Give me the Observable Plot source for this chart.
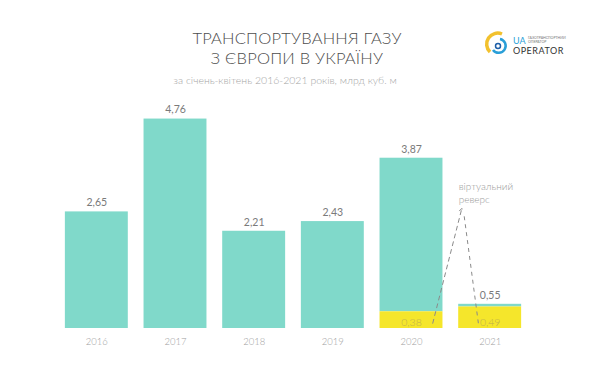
<!DOCTYPE html>
<html>
<head>
<meta charset="utf-8">
<script src="https://cdn.jsdelivr.net/npm/d3@7"></script>
<script src="https://cdn.jsdelivr.net/npm/@observablehq/plot@0.6"></script>
<style>
  html, body { margin: 0; padding: 0; background: #fff; }
  #wrap { position: relative; width: 600px; height: 383px; overflow: hidden; font-family: Lato, "Open Sans", sans-serif; }
  #header { height: 100px; position: relative; }
  .t { position: absolute; left: 0; top: 28px; width: 594px; text-align: center; color: #4d4d4d; font-size: 16.5px; line-height: 20px; font-weight: 300; letter-spacing: 0.2px; }
  .s { position: absolute; left: 0; width: 570px; text-align: center; color: #a5a5a5; font-size: 10.5px; line-height: 12px; font-weight: 300; }
  #logo { position: absolute; left: 484px; top: 30px; width: 110px; height: 30px; }
</style>
</head>
<body>
<div id="wrap">
  <div id="header">
    <div class="t">ТРАНСПОРТУВАННЯ ГАЗУ<br>З ЄВРОПИ В УКРАЇНУ</div>
    <div class="s" style="top:74px">за січень-квітень 2016-2021 років, млрд куб. м</div>
    <svg id="logo" width="110" height="30" viewBox="0 0 110 30">
      <path d="M6 22 A11 11 0 0 1 18 4" fill="none" stroke="#f2c12e" stroke-width="3.5"/>
      <path d="M9 20 A7 7 0 1 0 16 9" fill="none" stroke="#2a9fd8" stroke-width="2.5"/>
      <circle cx="14" cy="16" r="2.5" fill="none" stroke="#1d5fa8" stroke-width="1.5"/>
      <text x="29" y="14" font-size="9" fill="#2a9fd8" font-family="Lato, sans-serif">UA</text>
      <text x="44" y="9" font-size="3.5" fill="#777" font-family="Lato, sans-serif">ГАЗОТРАНСПОРТНИЙ</text>
      <text x="44" y="13" font-size="3.5" fill="#777" font-family="Lato, sans-serif">ОПЕРАТОР</text>
      <text x="29" y="24" font-size="9" fill="#333" font-family="Lato, sans-serif" letter-spacing="0.5">OPERATOR</text>
    </svg>
  </div>
  <div id="chart"></div>
</div>
<script>
const years = [2016, 2017, 2018, 2019, 2020, 2021];
const totals = [2.65, 4.76, 2.21, 2.43, 3.87, 0.55];
const reverse = [0, 0, 0, 0, 0.38, 0.49];
const annotationText = "віртуальний\nреверс";
// annotation anchors in data space (year, value)
const arrowUp = {x1: 2020.27, y1: 0.12, x2: 2020.64, y2: 2.73};
const arrowDown = {x1: 2020.67, y1: 2.55, x2: 2020.85, y2: 0.12};
const labelAnchor = {x: 2020.60, y: 3.36};

const fmt = v => v.toFixed(2).replace(".", ",");
const data = years.map((y, i) => ({year: y, total: totals[i], rev: reverse[i]}));
const revData = data.filter(d => d.rev > 0);
const teal = "#80d9ca";
const yellow = "#f5e62b";
const half = 0.4;

const chart = Plot.plot({
  width: 600,
  height: 283,
  marginLeft: 57,
  marginRight: 71,
  marginTop: 8,
  marginBottom: 55,
  style: {fontFamily: "Lato, 'Open Sans', sans-serif", background: "transparent"},
  x: {domain: [2015.5, 2021.5], axis: null},
  y: {domain: [0, 5], axis: null},
  marks: [
    Plot.rectY(data, {x1: d => d.year - half, x2: d => d.year + half, y1: d => d.rev, y2: d => d.total, fill: teal}),
    Plot.rectY(revData, {x1: d => d.year - half, x2: d => d.year + half, y1: 0, y2: d => d.rev, fill: yellow}),
    Plot.text(data, {x: "year", y: "total", text: d => fmt(d.total), dy: -9, fill: "#7a7a7a", fontSize: 10.5, fontWeight: 400}),
    Plot.text(revData, {x: "year", y: 0, text: d => fmt(d.rev), dy: -6, fill: "#bdb04c", fontSize: 10.5, fontWeight: 300}),
    Plot.text(data, {x: "year", y: 0, text: d => String(d.year), dy: 13, fill: "#a0a0a0", fontSize: 9.5, fontWeight: 300}),
    Plot.arrow([arrowUp], {x1: "x1", y1: "y1", x2: "x2", y2: "y2", stroke: "#8a8a8a", strokeWidth: 1, strokeDasharray: "4,4", headLength: 5, bend: 0}),
    Plot.link([arrowDown], {x1: "x1", y1: "y1", x2: "x2", y2: "y2", stroke: "#8a8a8a", strokeWidth: 1, strokeDasharray: "4,4"}),
    Plot.text([labelAnchor], {x: "x", y: "y", text: () => annotationText, textAnchor: "start", lineAnchor: "top", lineHeight: 1.3, fill: "#9a9a9a", fontSize: 10, fontWeight: 300})
  ]
});
document.getElementById("chart").appendChild(chart);
</script>
</body>
</html>
